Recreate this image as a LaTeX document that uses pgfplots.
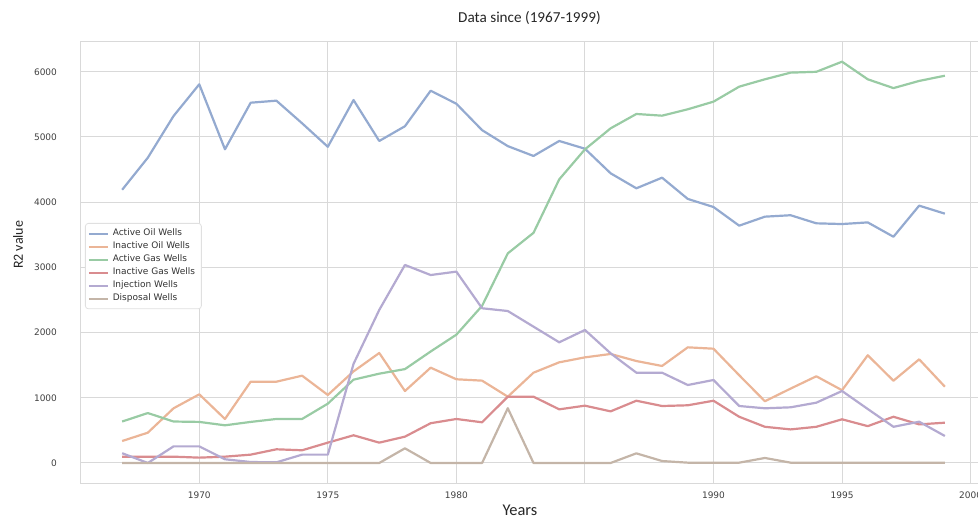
\documentclass[border=0pt]{standalone}
\usepackage{fontspec}
\setmainfont{DejaVu Sans}
\newfontfamily\labelfont{Carlito}
\usepackage{pgfplots}
\pgfplotsset{compat=1.18}
\usepackage{pgfplotstable}

% seaborn "deep" palette, drawn semi-transparent on white
\definecolor{dblue}{HTML}{4C72B0}
\definecolor{dorange}{HTML}{DD8452}
\definecolor{dgreen}{HTML}{55A868}
\definecolor{dred}{HTML}{C44E52}
\definecolor{dpurple}{HTML}{8172B3}
\definecolor{dbrown}{HTML}{937860}
\colorlet{cAO}{dblue!60!white}
\colorlet{cIO}{dorange!60!white}
\colorlet{cAG}{dgreen!60!white}
\colorlet{cIG}{dred!65!white}
\colorlet{cIN}{dpurple!60!white}
\colorlet{cDI}{dbrown!55!white}
\colorlet{gridc}{black!15}

\pgfplotstableread{
year AO   IO   AG   IG   IN   DI
1967 4190 337  636  95   150  0
1968 4683 465  766  97   0    0
1969 5322 839  636  97   255  0
1970 5808 1053 630  82   255  0
1971 4811 675  578  97   57   0
1972 5526 1247 630  128  15   0
1973 5557 1247 675  210  10   0
1974 5210 1339 675  195  128  0
1975 4850 1043 910  312  128  0
1976 5567 1405 1278 425  1520 0
1977 4939 1687 1370 312  2347 0
1978 5165 1104 1440 404  3037 225
1979 5710 1462 1710 610  2883 0
1980 5510 1284 1968 675  2935 0
1981 5105 1263 2410 624  2373 0
1982 4860 1017 3215 1017 2331 840
1983 4709 1385 3530 1017 2091 0
1984 4939 1544 4350 823  1851 0
1985 4820 1620 4810 879  2040 0
1986 4443 1672 5133 792  1682 0
1987 4213 1564 5353 955  1385 148
1988 4376 1488 5327 874  1385 30
1989 4050 1774 5425 885  1196 5
1990 3926 1753 5542 955  1273 5
1991 3640 1346 5772 709  874  5
1992 3778 947  5885 555  839  77
1993 3800 1141 5987 515  854  5
1994 3676 1330 6000 555  925  5
1995 3665 1116 6155 670  1104 5
1996 3690 1652 5885 565  828  5
1997 3470 1262 5750 709  555  5
1998 3947 1590 5860 592  633  5
1999 3824 1170 5940 618  414  5
}\wells

\begin{document}
\begin{tikzpicture}
\begin{axis}[
  name=ax,
  scale only axis,
  width=452.5pt, height=220.5pt,
  xmin=1965.4, xmax=2000.6,
  ymin=-307, ymax=6457,
  xtick={1970,1975,1980,1985,1990,1995,2000},
  xticklabels={1970,1975,1980,,1990,1995,2000},
  ytick={0,1000,2000,3000,4000,5000,6000},
  major tick length=0pt,
  grid=major,
  major grid style={gridc, line width=0.5pt},
  axis line style={gridc, line width=0.5pt},
  /pgf/number format/assume math mode=true,
  /pgf/number format/1000 sep={},
  tick label style={font=\fontsize{4.5}{5}\selectfont, text=black!75},
  yticklabel style={xshift=-8.5pt},
  xticklabel style={yshift=-1pt},
  title={\labelfont\fontsize{7.6}{9}\selectfont Data since (1967-1999)},
  title style={at={(axis description cs:0.4955,1)}, anchor=center, yshift=6pt, text=black!85},
  xlabel={\labelfont\fontsize{8.2}{9}\selectfont Years},
  xlabel style={at={(axis description cs:0.485,0)}, anchor=center, yshift=-13.5pt, text=black!85},
  ylabel={\labelfont\fontsize{7}{8}\selectfont R2 value},
  ylabel style={at={(axis description cs:-0.0696,0.54)}, anchor=center, text=black!85},
  legend cell align=left,
  legend image code/.code={\draw[#1, line width=1pt] (0pt,0pt) -- (9.5pt,0pt);},
  legend style={at={(axis description cs:0.0044,0.5896)}, anchor=north west,
    font=\fontsize{4.5}{5}\selectfont, text=black!80,
    draw=black!12, fill=white, rounded corners=1.5pt,
    inner xsep=1.2pt, inner ysep=0.6pt, row sep=-2.4pt},
  every axis plot/.append style={line width=1.1pt, line join=round},
]
\coordinate (sw) at (rel axis cs:0,0);
\addplot[cAO] table[x=year, y=AO] {\wells};
\addlegendentry{Active Oil Wells}
\addplot[cIO] table[x=year, y=IO] {\wells};
\addlegendentry{Inactive Oil Wells}
\addplot[cAG] table[x=year, y=AG] {\wells};
\addlegendentry{Active Gas Wells}
\addplot[cIG] table[x=year, y=IG] {\wells};
\addlegendentry{Inactive Gas Wells}
\addplot[cIN] table[x=year, y=IN] {\wells};
\addlegendentry{Injection Wells}
\addplot[cDI] table[x=year, y=DI] {\wells};
\addlegendentry{Disposal Wells}
\end{axis}
\pgfresetboundingbox
\path[use as bounding box] ([shift={(-40.5pt,-18.5pt)}]sw) rectangle ([shift={(448.5pt,241.5pt)}]sw);
\end{tikzpicture}
\end{document}
